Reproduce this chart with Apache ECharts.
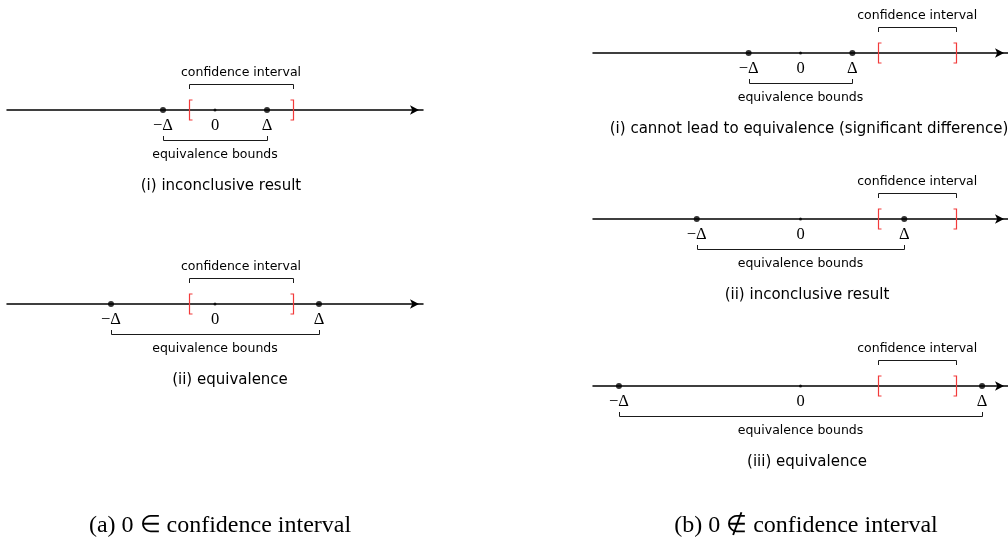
<!DOCTYPE html>
<html><head><meta charset="utf-8">
<script src="https://cdn.jsdelivr.net/npm/echarts@6/dist/echarts.min.js"></script>
<style>html,body{margin:0;padding:0;background:#fff}#c{width:1008px;height:538px}</style>
</head><body><div id="c"></div>
<script>
// ---- data ----
const panelCaptions = [
  '(i) inconclusive result',
  '(ii) equivalence',
  '(i) cannot lead to equivalence (significant difference)',
  '(ii) inconclusive result',
  '(iii) equivalence'
];
const equivalenceBound = [1, 2, 1, 2, 3.5];
const ciLower = [-0.5, -0.5, 1.5, 1.5, 1.5];
const ciUpper = [1.5, 1.5, 3, 3, 3];
const pointLabels = ['\u2212\u0394', '0', '\u0394'];
const bracketLabels = ['confidence interval', 'equivalence bounds'];
const subCaptions = ['(a) 0 \u2208 confidence interval', '(b) 0 \u2209 confidence interval'];
const axisRange = [-4, 4];

// ---- layout (pixels) ----
const layout = [
  {left: 7,   axisY: 110, capX: 221},
  {left: 7,   axisY: 304, capX: 230},
  {left: 593, axisY: 53,  capX: 809},
  {left: 593, axisY: 219, capX: 807},
  {left: 593, axisY: 386, capX: 807}
];
const subCapLayout = [{x: 220, y: 526}, {x: 806, y: 526}];
const GW = 416, GH = 80;
const SANS_S = '12.5px "DejaVu Sans"';
const SANS_C = '15px "DejaVu Sans"';
const SERIF = '16.5px "Liberation Serif"';
const SERIF_CAP = '24px "Liberation Serif"';
const RED = '#f23a3a';
const INK = '#1a1a1a';

const grid = [], xAxis = [], yAxis = [], series = [];
layout.forEach((L, i) => {
  grid.push({left: L.left, top: L.axisY - GH / 2, width: GW, height: GH});
  xAxis.push({
    gridIndex: i, type: 'value', min: axisRange[0], max: axisRange[1],
    axisLine: {show: true, onZero: true, symbol: ['none', 'arrow'], symbolSize: [7, 9], symbolOffset: [0, -4],
      lineStyle: {color: '#000', width: 1.5}},
    axisTick: {show: false}, axisLabel: {show: false}, splitLine: {show: false}
  });
  yAxis.push({gridIndex: i, type: 'value', min: -1, max: 1, show: false});
  const d = equivalenceBound[i];
  series.push({
    type: 'scatter', xAxisIndex: i, yAxisIndex: i, symbolSize: 6, z: 5,
    itemStyle: {color: '#000'}, data: [[-d, 0], [d, 0]], silent: true
  });
  series.push({
    type: 'scatter', xAxisIndex: i, yAxisIndex: i, symbolSize: 3, z: 5,
    itemStyle: {color: '#000'}, data: [[0, 0]], silent: true
  });
  series.push({
    type: 'custom', xAxisIndex: i, yAxisIndex: i, z: 4, silent: true,
    data: [[ciLower[i], ciUpper[i], -d, d]],
    renderItem: (params, api) => {
      const lo = api.coord([api.value(0), 0]);
      const hi = api.coord([api.value(1), 0]);
      const m = api.coord([api.value(2), 0]);
      const p = api.coord([api.value(3), 0]);
      const z0 = api.coord([0, 0]);
      const y = Math.round(lo[1]);
      const s = v => Math.round(v) + 0.5;
      const blk = {stroke: INK, lineWidth: 1, fill: null};
      const red = {stroke: RED, lineWidth: 1.2, fill: null};
      const txt = (t, x, yy, font) => ({type: 'text', style: {text: t, x: x, y: yy, align: 'center', verticalAlign: 'middle', font: font, fill: '#000'}});
      const xl = s(lo[0]), xh = s(hi[0]), xm = s(m[0]), xp = s(p[0]);
      return {type: 'group', children: [
        {type: 'polyline', shape: {points: [[xl, y - 21], [xl, y - 25.5], [xh, y - 25.5], [xh, y - 21]]}, style: blk},
        txt(bracketLabels[0], (lo[0] + hi[0]) / 2, y - 37, SANS_S),
        {type: 'polyline', shape: {points: [[xl + 3, y - 10], [xl, y - 10], [xl, y + 10], [xl + 3, y + 10]]}, style: red},
        {type: 'polyline', shape: {points: [[xh - 3, y - 10], [xh, y - 10], [xh, y + 10], [xh - 3, y + 10]]}, style: red},
        txt(pointLabels[0], m[0], y + 16, SERIF),
        txt(pointLabels[1], z0[0], y + 16, SERIF),
        txt(pointLabels[2], p[0], y + 16, SERIF),
        {type: 'polyline', shape: {points: [[xm, y + 26], [xm, y + 30.5], [xp, y + 30.5], [xp, y + 26]]}, style: blk},
        txt(bracketLabels[1], z0[0], y + 45, SANS_S),
        txt(panelCaptions[i], layout[i].capX, y + 76, SANS_C)
      ]};
    }
  });
});

const chart = echarts.init(document.getElementById('c'), null, {renderer: 'canvas'});
chart.setOption({
  animation: false,
  backgroundColor: '#fff',
  grid, xAxis, yAxis, series,
  graphic: subCaptions.map((t, k) => ({
    type: 'text', x: subCapLayout[k].x, y: subCapLayout[k].y,
    style: {text: t, align: 'center', verticalAlign: 'middle', font: SERIF_CAP, fill: '#000'}
  }))
});
</script></body></html>
